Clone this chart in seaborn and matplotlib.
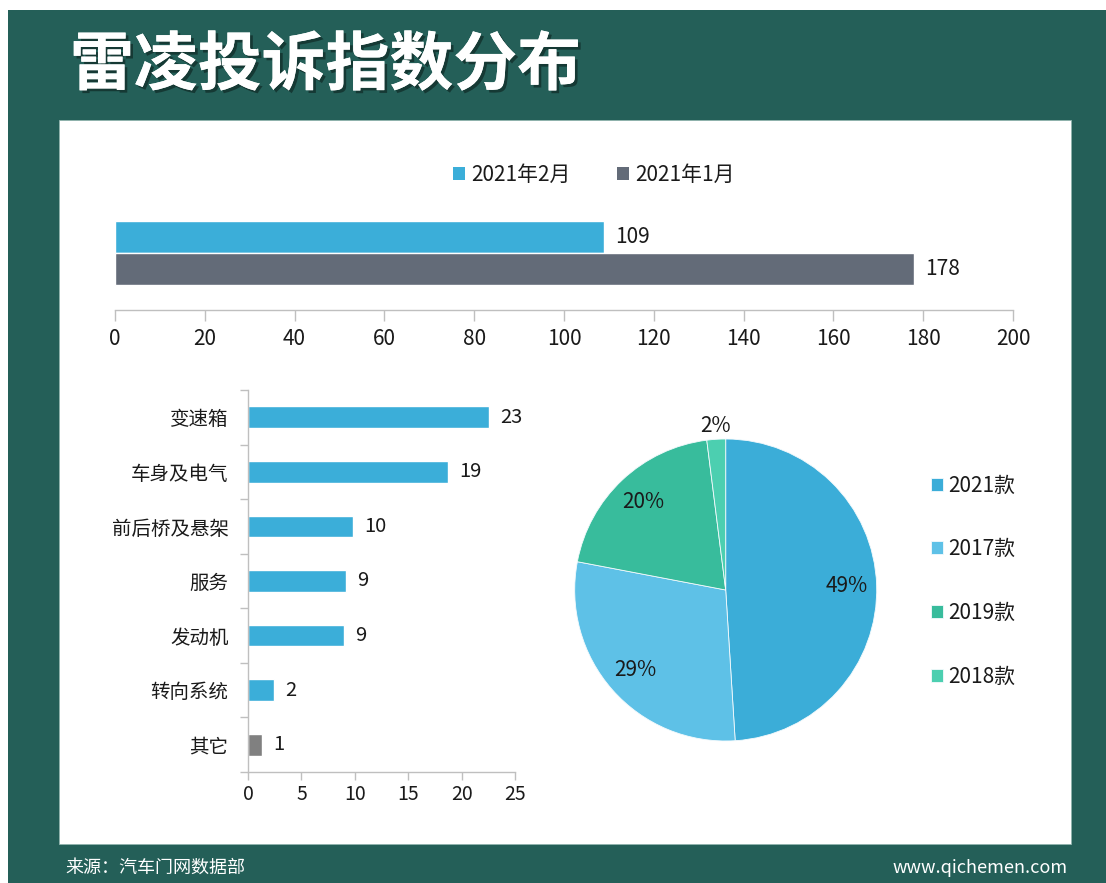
import numpy as np
import pandas as pd
import matplotlib
matplotlib.use("Agg")
import matplotlib.pyplot as plt
import matplotlib.patheffects as pe
from matplotlib.patches import Rectangle, Patch
import seaborn as sns

# ---------------- data ----------------
periods = ["2021年2月", "2021年1月"]
period_values = [109, 178]

categories = ["变速箱", "车身及电气", "前后桥及悬架", "服务", "发动机", "转向系统", "其它"]
category_values = [22.6, 18.7, 9.8, 9.2, 9.0, 2.4, 1.3]

model_years = ["2021款", "2017款", "2019款", "2018款"]
model_shares = [49, 29, 20, 2]

top_ticks = list(range(0, 201, 20))
bottom_ticks = list(range(0, 26, 5))

# ---------------- style ----------------
sns.set_theme(style="white")
plt.rcParams["font.family"] = ["Noto Sans CJK SC", "DejaVu Sans"]

BG_GREEN = "#245F58"
BLUE = "#3BAED9"
GREY = "#636B78"
OTHER_GREY = "#808080"
PIE_COLORS = ["#3BADD8", "#5EC1E7", "#38BC9C", "#4CCFB0"]
AXIS_GREY = "#BFBFBF"
TXT = "#1A1A1A"

W, H = 1106, 883
fig = plt.figure(figsize=(W / 100, H / 100), dpi=100)
fig.patch.set_facecolor("white")


def rect(x0, y0, x1, y1):
    return [x0 / W, 1 - y1 / H, (x1 - x0) / W, (y1 - y0) / H]


# background frames
fig.add_artist(Rectangle((8 / W, 0), 1 - 8 / W, 1 - 10 / H, transform=fig.transFigure,
                         facecolor=BG_GREEN, edgecolor="none", zorder=-3))
fig.add_artist(Rectangle((59 / W, 1 - 844 / H), (1071 - 59) / W, (844 - 120) / H,
                         transform=fig.transFigure, facecolor="white",
                         edgecolor="#8FB3AD", linewidth=0.6, zorder=-2))

# title
fig.text(70 / W, 1 - 66 / H, "雷凌投诉指数分布", color="white", fontsize=46,
         fontweight="bold", ha="left", va="center",
         path_effects=[pe.withSimplePatchShadow(offset=(2, -2), shadow_rgbFace="black", alpha=0.4),
                       pe.Normal()])

# footer
fig.text(65 / W, 1 - 868 / H, "来源：汽车门网数据部", color="white", fontsize=13,
         ha="left", va="center")
fig.text(1068 / W, 1 - 868 / H, "www.qichemen.com", color="white", fontsize=13,
         ha="right", va="center")

# ---------------- top bar chart ----------------
ax1 = fig.add_axes(rect(115, 200, 1013, 310))
ax1.set_facecolor("none")
df1 = pd.DataFrame({"period": periods, "value": period_values})
sns.barplot(data=df1, x="value", y="period", hue="period", palette=[BLUE, GREY],
            width=1.0, legend=False, ax=ax1, saturation=1)
ax1.set_xlim(0, 200)
ax1.set_ylim(2.27, -1.17)
ax1.set_xticks(top_ticks)
ax1.set_xticklabels([str(t) for t in top_ticks], fontsize=15, color=TXT)
ax1.set_yticks([])
ax1.set_xlabel("")
ax1.set_ylabel("")
for s in ["left", "top", "right"]:
    ax1.spines[s].set_visible(False)
ax1.spines["bottom"].set_color(AXIS_GREY)
ax1.spines["bottom"].set_linewidth(1)
ax1.tick_params(axis="x", bottom=True, length=8, color=AXIS_GREY, width=1, pad=5, direction="out")
for c in ax1.containers:
    ax1.bar_label(c, fmt="%.0f", padding=8, fontsize=15, color=TXT)

handles_top = [Patch(facecolor=BLUE, edgecolor="none"), Patch(facecolor=GREY, edgecolor="none")]
fig.legend(handles_top, periods, loc="center", bbox_to_anchor=(594 / W, 1 - 175 / H),
           ncol=2, frameon=False, fontsize=15, handlelength=0.6, handleheight=0.6,
           handletextpad=0.3, columnspacing=2.2, labelcolor=TXT)

# ---------------- bottom bar chart ----------------
ax2 = fig.add_axes(rect(248, 390, 515, 772))
ax2.set_facecolor("none")
df2 = pd.DataFrame({"category": categories, "value": category_values})
bar_colors = [BLUE] * (len(categories) - 1) + [OTHER_GREY]
sns.barplot(data=df2, x="value", y="category", hue="category", palette=bar_colors,
            width=0.4, legend=False, ax=ax2, saturation=1)
ax2.set_xlim(0, 25)
ax2.set_ylim(len(categories) - 0.5, -0.5)
ax2.set_xticks(bottom_ticks)
ax2.set_xticklabels([str(t) for t in bottom_ticks], fontsize=14, color=TXT)
ax2.set_yticks(range(len(categories)))
ax2.set_yticklabels(categories, fontsize=14, color=TXT)
ax2.set_yticks(np.arange(-0.5, len(categories), 1.0), minor=True)
ax2.set_xlabel("")
ax2.set_ylabel("")
for s in ["top", "right"]:
    ax2.spines[s].set_visible(False)
for s in ["left", "bottom"]:
    ax2.spines[s].set_color(AXIS_GREY)
    ax2.spines[s].set_linewidth(1)
ax2.tick_params(axis="y", which="major", left=True, length=0, pad=14)
ax2.tick_params(axis="y", which="minor", left=True, length=6, color=AXIS_GREY, width=1, direction="out")
ax2.tick_params(axis="x", bottom=True, length=6, color=AXIS_GREY, width=1, pad=3, direction="out")
for c in ax2.containers:
    ax2.bar_label(c, fmt="%.0f", padding=8, fontsize=14.5, color=TXT)

# ---------------- pie chart ----------------
cx, cy, r = 725.7, 590, 151
ax3 = fig.add_axes(rect(cx - r, cy - r, cx + r, cy + r))
ax3.set_facecolor("none")
wedges, _, autotexts = ax3.pie(model_shares, colors=PIE_COLORS, startangle=90,
                               counterclock=False, autopct="%.0f%%", pctdistance=0.8,
                               wedgeprops=dict(edgecolor="#F4FAFD", linewidth=0.6),
                               textprops=dict(fontsize=15, color=TXT))
# small slice label outside
w = wedges[-1]
mid = np.deg2rad((w.theta1 + w.theta2) / 2)
autotexts[-1].set_position((1.09 * np.cos(mid), 1.09 * np.sin(mid)))
ax3.set_xlim(-1, 1)
ax3.set_ylim(-1, 1)
ax3.set_aspect("equal")
ax3.axis("off")

fig.legend(wedges, model_years, loc="center left", bbox_to_anchor=(912 / W, 1 - 581 / H),
           frameon=False, fontsize=15, handlelength=0.6, handleheight=0.6,
           handletextpad=0.25, labelspacing=2.0, labelcolor=TXT)

fig.savefig("out.png", dpi=100)
